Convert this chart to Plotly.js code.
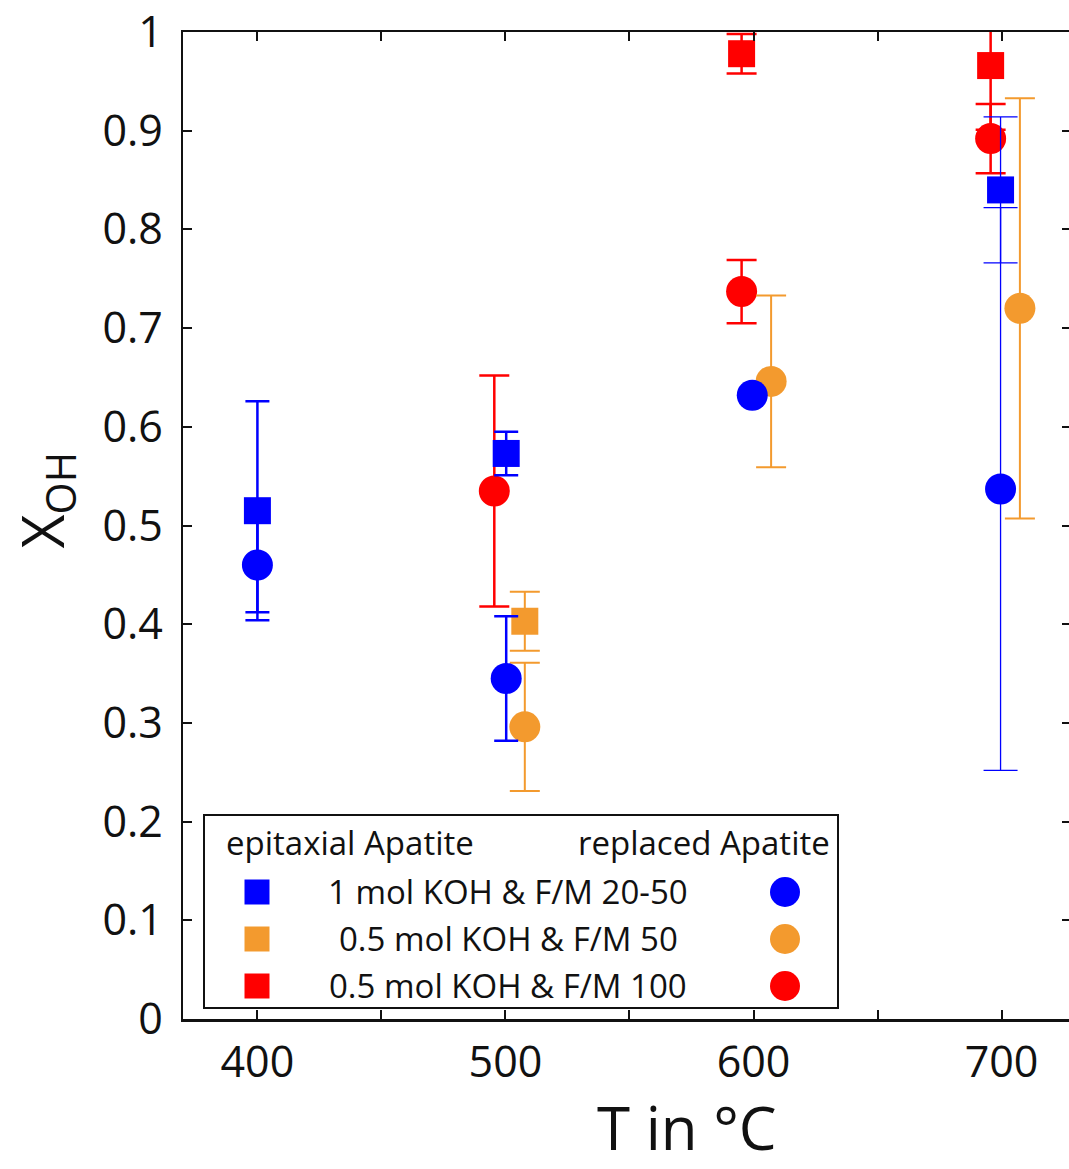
<!DOCTYPE html>
<html>
<head>
<meta charset="utf-8">
<script src="https://cdn.plot.ly/plotly-3.0.1.min.js"></script>
<style>
html, body { margin: 0; padding: 0; overflow: hidden; background: #fff; }
#chart { width: 1071px; height: 1169px; }
</style>
</head>
<body>
<div id="chart"></div>
<script>
// ---- Data ----
// Epitaxial apatite (squares)
const epiBlueT   = [400, 500.3, 699.6];
const epiBlueX   = [0.515, 0.573, 0.840];
const epiBlueErr = [0.111, 0.022, 0.074];

const epiOrangeT   = [507.8];
const epiOrangeX   = [0.403];
const epiOrangeErr = [0.030];

const epiRedT   = [595.2, 695.6];
const epiRedX   = [0.978, 0.966];
const epiRedErr = [0.020, 0.065];

// Replaced apatite (circles)
const repBlueT   = [400, 500.3, 599.5, 699.6];
const repBlueX   = [0.460, 0.345, 0.632, 0.537];
const repBlueErr = [0.048, 0.063, 0, 0.285];

const repOrangeT   = [507.8, 607.1, 707.4];
const repOrangeX   = [0.296, 0.646, 0.720];
const repOrangeErr = [0.065, 0.087, 0.213];

const repRedT   = [495.5, 595.2, 695.6];
const repRedX   = [0.535, 0.737, 0.892];
const repRedErr = [0.117, 0.032, 0.035];

const xTickVals = [400, 500, 600, 700];
const xTickText = ['400', '500', '600', '700'];
const yTickVals = [0, 0.1, 0.2, 0.3, 0.4, 0.5, 0.6, 0.7, 0.8, 0.9, 1];
const yTickText = ['0', '0.1', '0.2', '0.3', '0.4', '0.5', '0.6', '0.7', '0.8', '0.9', '1'];

const legendRows = ['1 mol KOH & F/M 20-50', '0.5 mol KOH & F/M 50', '0.5 mol KOH & F/M 100'];
const legendHeaders = ['epitaxial Apatite', 'replaced Apatite'];
const xTitle = 'T in °C';
const yTitle = 'X<sub>OH</sub>';

// ---- Styles ----
const BLUE = '#0000ff', ORANGE = '#f39a2e', RED = '#ff0000';
const FONT = 'Open Sans, Liberation Sans, sans-serif';
const legendColors = [BLUE, ORANGE, RED];

// split points into normal / thin-errorbar groups (the 700 °C blue bars are drawn thin)
function split(t, x, e, thinFrom) {
  const a = {t: [], x: [], e: []}, b = {t: [], x: [], e: []};
  t.forEach((v, i) => {
    const g = (v >= thinFrom) ? b : a;
    g.t.push(v); g.x.push(x[i]); g.e.push(e[i]);
  });
  return [a, b];
}
function trace(d, color, symbol, size, thick, capw) {
  return {
    type: 'scatter', mode: 'markers', x: d.t, y: d.x, showlegend: false,
    marker: {color: color, symbol: symbol, size: size, line: {width: 0}},
    error_y: {type: 'data', array: d.e, visible: true, color: color, thickness: thick, width: capw}
  };
}

const [repBlueA, repBlueB] = split(repBlueT, repBlueX, repBlueErr, 690);
const [epiBlueA, epiBlueB] = split(epiBlueT, epiBlueX, epiBlueErr, 690);

const data = [
  trace({t: repRedT, x: repRedX, e: repRedErr}, RED, 'circle', 31, 2.5, 15),
  trace({t: epiRedT, x: epiRedX, e: epiRedErr}, RED, 'square', 27, 2.5, 15),
  trace({t: repOrangeT, x: repOrangeX, e: repOrangeErr}, ORANGE, 'circle', 31, 2, 15),
  trace({t: epiOrangeT, x: epiOrangeX, e: epiOrangeErr}, ORANGE, 'square', 27, 2, 15),
  trace(repBlueB, BLUE, 'circle', 31, 1.3, 17),
  trace(epiBlueB, BLUE, 'square', 27, 1.3, 17),
  trace(repBlueA, BLUE, 'circle', 31, 2.5, 12),
  trace(epiBlueA, BLUE, 'square', 27, 2.5, 12)
];

// plot-area geometry in pixels (for the hand-drawn legend box and titles)
const L = 183, T = 32, PW = 888, PH = 987;
const px = v => (v - L) / PW;
const py = v => (T + PH - v) / PH;

const shapes = [{
  type: 'rect', xref: 'paper', yref: 'paper',
  x0: px(204), x1: px(838), y0: py(1008), y1: py(815),
  line: {color: '#111', width: 2}, fillcolor: '#fff', layer: 'above'
}];
const annotations = [];
const rowY = [892, 939, 986];
const legFont = {family: FONT, size: 33, color: '#111'};
legendRows.forEach((txt, i) => {
  shapes.push({type: 'rect', xref: 'paper', yref: 'paper', xsizemode: 'pixel', ysizemode: 'pixel',
    xanchor: px(257), yanchor: py(rowY[i]), x0: -12.5, x1: 12.5, y0: -12.5, y1: 12.5,
    fillcolor: legendColors[i], line: {width: 0}, layer: 'above'});
  shapes.push({type: 'circle', xref: 'paper', yref: 'paper', xsizemode: 'pixel', ysizemode: 'pixel',
    xanchor: px(785), yanchor: py(rowY[i]), x0: -15, x1: 15, y0: -15, y1: 15,
    fillcolor: legendColors[i], line: {width: 0}, layer: 'above'});
  annotations.push({xref: 'paper', yref: 'paper', x: px(508), y: py(rowY[i] - 1),
    xanchor: 'center', yanchor: 'middle', showarrow: false, text: txt, font: legFont});
});
annotations.push({xref: 'paper', yref: 'paper', x: px(224), y: py(842), xanchor: 'left', yanchor: 'middle',
  showarrow: false, text: legendHeaders[0], font: legFont});
annotations.push({xref: 'paper', yref: 'paper', x: px(832), y: py(842), xanchor: 'right', yanchor: 'middle',
  showarrow: false, text: legendHeaders[1], font: legFont});

// axis titles
annotations.push({xref: 'paper', yref: 'paper', x: px(687), y: py(1169), xanchor: 'center', yanchor: 'bottom',
  borderpad: 0, showarrow: false, text: xTitle, font: {family: FONT, size: 60, color: '#111'}});
annotations.push({xref: 'paper', yref: 'paper', x: px(0), y: py(500), xanchor: 'left', yanchor: 'middle',
  borderpad: 0, showarrow: false, textangle: -90, text: yTitle, font: {family: FONT, size: 59, color: '#111'}});

const axisCommon = {
  showline: true, linecolor: '#111', linewidth: 2.5, mirror: 'ticks',
  ticks: 'inside', ticklen: 9, tickwidth: 2, tickcolor: '#111',
  showgrid: false, zeroline: false, tickmode: 'array'
};

const layout = {
  width: 1071, height: 1169,
  margin: {l: L, r: 0, t: T, b: 1169 - T - PH},
  paper_bgcolor: '#fff', plot_bgcolor: '#fff',
  showlegend: false,
  xaxis: Object.assign({}, axisCommon, {
    range: [370, 728], tickvals: xTickVals, ticktext: xTickText,
    minor: {dtick: 50, tick0: 0, ticks: 'inside', ticklen: 9, tickwidth: 2, tickcolor: '#111', showgrid: false},
    tickfont: {family: FONT, size: 43, color: '#111'}, ticklabelstandoff: 4
  }),
  yaxis: Object.assign({}, axisCommon, {
    range: [0, 1], tickvals: yTickVals, ticktext: yTickText,
    tickfont: {family: FONT, size: 43, color: '#111'}, ticklabelstandoff: 9
  }),
  shapes: shapes,
  annotations: annotations
};

Plotly.newPlot('chart', data, layout, {displayModeBar: false, staticPlot: true});
</script>
</body>
</html>
